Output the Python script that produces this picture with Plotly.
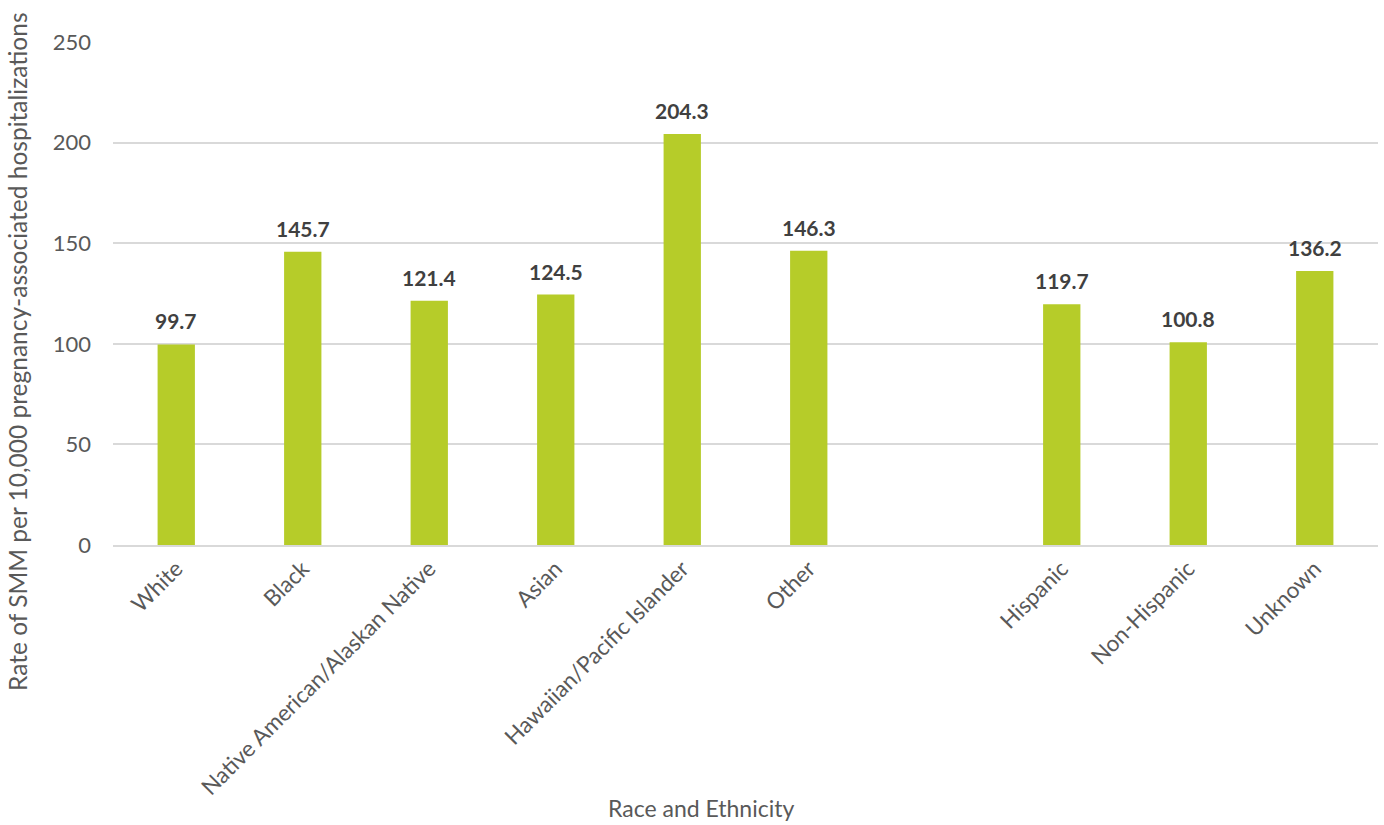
import plotly.graph_objects as go

categories = ["White", "Black", "Native American/Alaskan Native", "Asian",
              "Hawaiian/Pacific Islander", "Other", " ", "Hispanic",
              "Non-Hispanic", "Unknown"]
values = [99.7, 145.7, 121.4, 124.5, 204.3, 146.3, None, 119.7, 100.8, 136.2]
labels = ["99.7", "145.7", "121.4", "124.5", "204.3", "146.3", "", "119.7", "100.8", "136.2"]
y_ticks = [0, 50, 100, 150, 200, 250]

FONT = "Lato"
BAR = "#B6CC29"
GRAY = "#595959"

fig = go.Figure()
fig.add_trace(go.Bar(x=categories, y=values, marker=dict(color=BAR, line=dict(width=0)),
                     width=0.295, hoverinfo="skip"))

for c, v, t in zip(categories, values, labels):
    if v is None:
        continue
    fig.add_annotation(x=c, y=v, text="<b>" + t + "</b>", showarrow=False,
                       yanchor="bottom", yshift=9,
                       font=dict(family=FONT, size=21, color="#404040"))

fig.add_annotation(xref="paper", yref="paper", x=-0.075, y=0.384, xanchor="center", yanchor="middle",
                   text="Rate of SMM per 10,000 pregnancy-associated hospitalizations",
                   textangle=-90, showarrow=False,
                   font=dict(family=FONT, size=24.5, color=GRAY))

fig.add_annotation(xref="paper", yref="paper", x=0.465, y=-0.523, xanchor="center", yanchor="middle",
                   text="Race and Ethnicity", showarrow=False,
                   font=dict(family=FONT, size=23, color=GRAY))

fig.update_layout(
    width=1384, height=825,
    margin=dict(l=113, r=6, t=42, b=280),
    plot_bgcolor="white", paper_bgcolor="white",
    showlegend=False,
    font=dict(family=FONT, color=GRAY, size=22),
    xaxis=dict(type="category", categoryorder="array", categoryarray=categories,
               tickangle=-45, tickfont=dict(family=FONT, size=22.5, color=GRAY),
               showgrid=False, showline=True, linecolor="#D9D9D9", linewidth=1.5,
               ticks="", ticklen=0),
    yaxis=dict(range=[0, 250], tickvals=y_ticks, showgrid=True, gridcolor="#D9D9D9",
               gridwidth=1.5, zeroline=False, showline=False, ticks="",
               tickfont=dict(family=FONT, size=22, color=GRAY), ticklabelstandoff=21),
)

fig.write_html("out.html")
